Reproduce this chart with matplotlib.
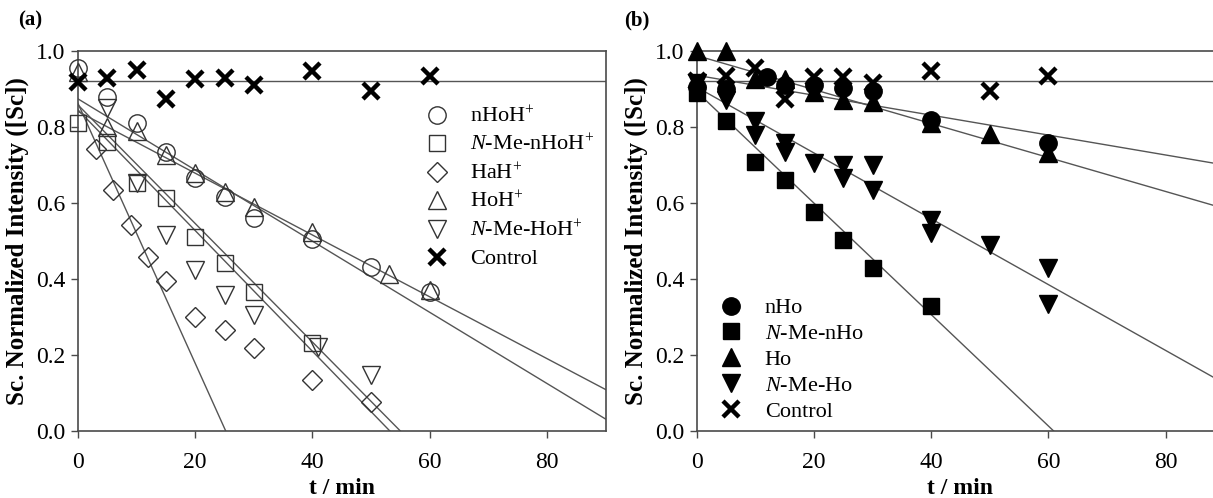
import numpy as np
import matplotlib
matplotlib.use("Agg")
import matplotlib.pyplot as plt

plt.rcParams['font.family'] = ['Liberation Serif', 'DejaVu Serif']
plt.rcParams['mathtext.fontset'] = 'custom'
plt.rcParams['mathtext.rm'] = 'Liberation Serif'
plt.rcParams['mathtext.it'] = 'Liberation Serif:italic'
plt.rcParams['mathtext.bf'] = 'Liberation Serif:bold'

# ---------------- Panel (a) data (protonated forms) ----------------
nHoH_t = [0, 5, 10, 15, 20, 25, 30, 40, 50, 60]
nHoH_y = [0.955, 0.88, 0.81, 0.735, 0.665, 0.615, 0.56, 0.505, 0.432, 0.367]

NMe_nHoH_t = [0, 5, 10, 15, 20, 25, 30, 40]
NMe_nHoH_y = [0.81, 0.76, 0.653, 0.612, 0.511, 0.441, 0.367, 0.232]

HaH_t = [3, 6, 9, 12, 15, 20, 25, 30, 40, 50]
HaH_y = [0.741, 0.634, 0.542, 0.459, 0.395, 0.299, 0.266, 0.218, 0.134, 0.077]

HoH_t = [0, 5, 10, 15, 20, 25, 30, 40, 53, 60]
HoH_y = [0.945, 0.80, 0.79, 0.726, 0.678, 0.63, 0.59, 0.524, 0.413, 0.37]

NMe_HoH_t = [5, 10, 15, 20, 25, 30, 41, 50]
NMe_HoH_y = [0.849, 0.652, 0.516, 0.424, 0.358, 0.305, 0.222, 0.147]

control_t = [0, 5, 10, 15, 20, 25, 30, 40, 50, 60]
control_y = [0.919, 0.928, 0.95, 0.873, 0.925, 0.928, 0.911, 0.948, 0.895, 0.934]

# fit lines (intercept, slope)
fit_a_names = ["nHoH", "NMe_nHoH", "HaH", "HoH", "NMe_HoH", "Control"]
fit_a_intercept = [0.874, 0.845, 0.862, 0.841, 0.858, 0.922]
fit_a_slope = [-0.00936, -0.01588, -0.0342, -0.00813, -0.0156, 0.0]

# ---------------- Panel (b) data (neutral forms) ----------------
nHo_t = [0, 5, 12, 15, 20, 25, 30, 40, 60]
nHo_y = [0.905, 0.90, 0.932, 0.91, 0.91, 0.902, 0.895, 0.818, 0.757]

NMe_nHo_t = [0, 5, 10, 15, 20, 25, 30, 40]
NMe_nHo_y = [0.89, 0.816, 0.709, 0.661, 0.577, 0.502, 0.428, 0.329]

Ho_t = [0, 5, 10, 15, 20, 25, 30, 40, 50, 60]
Ho_y = [1.0, 1.0, 0.925, 0.925, 0.893, 0.871, 0.867, 0.81, 0.781, 0.731]

NMe_Ho_t = [0, 5, 10, 10, 15, 15, 20, 25, 25, 30, 30, 40, 40, 50, 60, 60]
NMe_Ho_y = [0.915, 0.871, 0.815, 0.779, 0.757, 0.735, 0.704, 0.70, 0.665,
            0.70, 0.634, 0.554, 0.52, 0.489, 0.428, 0.334]

controlb_t = [0, 5, 10, 15, 20, 25, 30, 40, 50, 60]
controlb_y = [0.92, 0.935, 0.954, 0.873, 0.932, 0.932, 0.915, 0.948, 0.895, 0.934]

fit_b_names = ["nHo", "NMe_nHo", "Ho", "NMe_Ho", "Control"]
fit_b_intercept = [0.936, 0.893, 0.988, 0.905, 0.922]
fit_b_slope = [-0.00262, -0.01466, -0.00447, -0.00866, 0.0]

xticks = [0, 20, 40, 60, 80]
yticks = [0.0, 0.2, 0.4, 0.6, 0.8, 1.0]

W, H = 1213, 498
fig = plt.figure(figsize=(W / 100, H / 100), dpi=100)

def px_axes(left, top, width, height):
    return [left / W, 1 - (top + height) / H, width / W, height / H]

spine_col = '#4a4a4a'
line_col = '#555555'
edge_col = '#333333'
TICKFS = 17
LABFS = 18

def style_axes(ax):
    ax.set_xlim(0, 90)
    ax.set_ylim(0, 1.0)
    ax.set_xticks(xticks)
    ax.set_yticks(yticks)
    ax.set_yticklabels([f"{v:.1f}" for v in yticks])
    ax.tick_params(direction='out', length=5, width=1.0, colors=spine_col,
                   labelcolor='black', labelsize=TICKFS, pad=4)
    ax.tick_params(axis='x', pad=10)
    ax.tick_params(top=False, right=False)
    for s in ax.spines.values():
        s.set_color(spine_col)
        s.set_linewidth(1.2)
    ax.set_xlabel("t / min", fontsize=LABFS - 1, fontweight='bold', labelpad=4)
    ax.set_ylabel("Sc. Normalized Intensity ([Sc])", fontsize=LABFS,
                  fontweight='bold', labelpad=5)

def draw_fits(ax, intercepts, slopes):
    xs = np.array([0.0, 90.0])
    for b, m in zip(intercepts, slopes):
        ax.plot(xs, b + m * xs, color=line_col, lw=1.0, zorder=2)

# ---------------- Panel (a) ----------------
axa = fig.add_axes(px_axes(78, 51, 527.5, 380))
style_axes(axa)
draw_fits(axa, fit_a_intercept, fit_a_slope)

open_kw = dict(ls='none', mfc='none', mec=edge_col, mew=1.0, clip_on=False, zorder=3)
axa.plot(nHoH_t, nHoH_y, marker='o', ms=12.5, label='nHoH$^{+}$', **open_kw)
axa.plot(NMe_nHoH_t, NMe_nHoH_y, marker='s', ms=11.5, label='$N$-Me-nHoH$^{+}$', **open_kw)
axa.plot(HaH_t, HaH_y, marker='D', ms=10, label='HaH$^{+}$', **open_kw)
axa.plot(HoH_t, HoH_y, marker='^', ms=12.5, label='HoH$^{+}$', **open_kw)
axa.plot(NMe_HoH_t, NMe_HoH_y, marker='v', ms=12.5, label='$N$-Me-HoH$^{+}$', **open_kw)
axa.plot(control_t, control_y, marker='x', ms=11, mew=3.2, ls='none', color='black',
         clip_on=False, zorder=4, label='Control')

lega = axa.legend(loc='upper left', bbox_to_anchor=(0.646, 0.872), frameon=True,
                  facecolor='white', edgecolor='none', framealpha=1.0,
                  fontsize=16, handlelength=1.0, handletextpad=1.0,
                  labelspacing=0.33, borderpad=0.3, borderaxespad=0.0)
fig.text(30 / W, 1 - 20 / H, "(a)", fontsize=15, fontweight='bold', ha='center', va='center')

# ---------------- Panel (b) ----------------
axb = fig.add_axes(px_axes(696.7, 51, 527.4, 380))
style_axes(axb)
draw_fits(axb, fit_b_intercept, fit_b_slope)

fill_kw = dict(ls='none', color='black', clip_on=False, zorder=3)
axb.plot(nHo_t, nHo_y, marker='o', ms=12.5, label='nHo', **fill_kw)
axb.plot(NMe_nHo_t, NMe_nHo_y, marker='s', ms=11.5, label='$N$-Me-nHo', **fill_kw)
axb.plot(Ho_t, Ho_y, marker='^', ms=12.5, label='Ho', **fill_kw)
axb.plot(NMe_Ho_t, NMe_Ho_y, marker='v', ms=12.5, label='$N$-Me-Ho', **fill_kw)
axb.plot(controlb_t, controlb_y, marker='x', ms=11, mew=3.2, ls='none', color='black',
         clip_on=False, zorder=4, label='Control')

legb = axb.legend(loc='upper left', bbox_to_anchor=(0.032, 0.368), frameon=True,
                  facecolor='white', edgecolor='none', framealpha=1.0,
                  fontsize=16, handlelength=1.0, handletextpad=1.0,
                  labelspacing=0.24, borderpad=0.3, borderaxespad=0.0)
fig.text(637 / W, 1 - 20 / H, "(b)", fontsize=15, fontweight='bold', ha='center', va='center')

fig.savefig("out.png", dpi=100)
